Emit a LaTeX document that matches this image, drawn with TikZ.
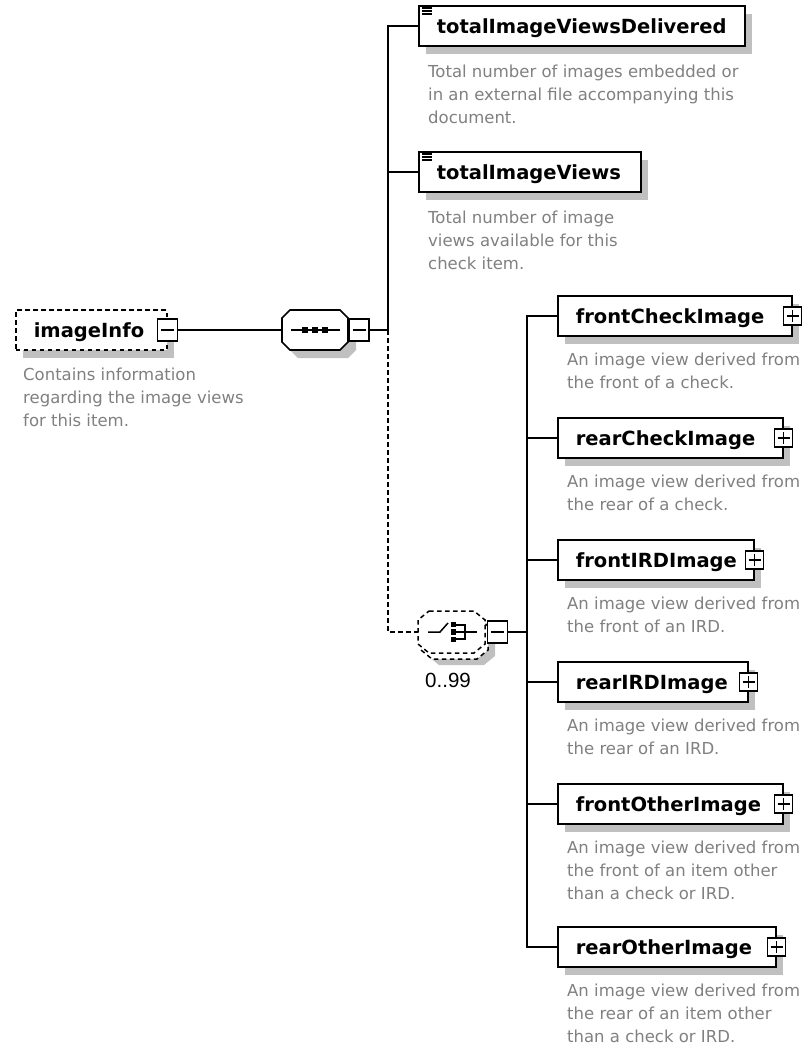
\documentclass[tikz,border=0pt]{standalone}
\usepackage{fontspec}
\setmainfont{DejaVu Sans}
\newfontfamily\occfont{Liberation Sans}
\usetikzlibrary{shadows}
\definecolor{shadowgrey}{RGB}{192,192,192}
\definecolor{doc}{RGB}{128,128,128}
\tikzset{
  wire/.style={line width=1.7pt},
  optwire/.style={line width=1.6pt, dash pattern=on 4.5pt off 3.5pt},
  elem/.style={draw, line width=1.7pt, fill=white, minimum height=40pt,
    inner xsep=18pt, inner ysep=0pt, align=left, text height=16pt, text depth=2pt,
    anchor=west, font=\fontsize{19.5}{22}\selectfont\bfseries,
    drop shadow={shadow xshift=7pt, shadow yshift=-8pt, opacity=1, fill=shadowgrey, draw=none}},
  optelem/.style={elem, line width=1.6pt, dash pattern=on 4.5pt off 3.5pt},
  docnote/.style={anchor=base west, inner sep=0pt, text=doc, font=\fontsize{16.5}{23}\selectfont},
  togglebox/.style={draw, fill=white, line width=1.4pt, inner sep=0pt},
  plusbox/.style={togglebox, minimum width=18pt, minimum height=18pt,
    path picture={\draw[line width=1.4pt]
      ([xshift=-6pt]path picture bounding box.center) -- ([xshift=6pt]path picture bounding box.center)
      ([yshift=-6pt]path picture bounding box.center) -- ([yshift=6pt]path picture bounding box.center);}},
  minusbox/.style={togglebox, minimum width=20pt, minimum height=22pt,
    path picture={\draw[line width=1.4pt]
      ([xshift=-6.5pt]path picture bounding box.center) -- ([xshift=6.5pt]path picture bounding box.center);}},
  hub/.style={inner sep=0pt, outer sep=0pt},
  compo/.style={line width=1.5pt, dash pattern=on 4.5pt off 3.5pt, fill=white},
}
\begin{document}
\begin{tikzpicture}[x=1pt, y=-1pt]
\useasboundingbox (0,0) rectangle (809,1047);

% ---------- root element ----------
\node[optelem, text width=115pt] (info) at (15,330) {imageInfo};
\node[minusbox] (infom) at (info.east) {};
\node[docnote] (infod) at (23,380) {\begin{tabular}[t]{@{}l@{}}Contains information\\regarding the image views\\for this item.\end{tabular}};

% ---------- sequence compositor ----------
\node[hub, minimum width=66pt, minimum height=40pt] (seq) at (315,330) {};
\fill[shadowgrey] (298,318) -- (348,318) -- (356,326) -- (356,350) -- (348,358) -- (298,358) -- (290,350) -- (290,326) -- cycle;
\draw[wire, fill=white] (290,310) -- (340,310) -- (348,318) -- (348,342) -- (340,350) -- (290,350) -- (282,342) -- (282,318) -- cycle;
\draw[line width=1.5pt] (291,330) -- (340,330);
\foreach \x in {305,315,325} \fill (\x-3.2,326.8) rectangle (\x+3.2,333.2);
\node[minusbox] (seqm) at (359,330) {};

% ---------- simple-content elements ----------
\node[elem, text width=290pt] (tivd) at (418,26) {totalImageViewsDelivered};
\node[docnote] (tivdd) at (428,77) {\begin{tabular}[t]{@{}l@{}}Total number of images embedded or\\in an external file accompanying this\\document.\end{tabular}};
\node[elem, text width=186pt] (tiv) at (418,172) {totalImageViews};
\node[docnote] (tivdoc) at (428,223) {\begin{tabular}[t]{@{}l@{}}Total number of image\\views available for this\\check item.\end{tabular}};
\foreach \n in {tivd,tiv}
  \foreach \d in {3,6,9}
    \draw[line width=1.4pt] ([xshift=4pt,yshift=-\d pt]\n.north west) -- ++(10pt,0);

% ---------- choice compositor (0..99) ----------
\node[hub, minimum width=67pt, minimum height=42pt] (cho) at (451.5,632) {};
\fill[shadowgrey] (439,623) -- (484,623) -- (495,632) -- (495,656) -- (484,665) -- (439,665) -- (428,656) -- (428,632) -- cycle;
\draw[compo] (432,617) -- (477,617) -- (488,626) -- (488,650) -- (477,659) -- (432,659) -- (421,650) -- (421,626) -- cycle;
\draw[compo] (429,611) -- (474,611) -- (485,620) -- (485,644) -- (474,653) -- (429,653) -- (418,644) -- (418,620) -- cycle;
\draw[line width=1.5pt] (428,632) -- (440,632) -- (448,623);
\foreach \y in {624.5,632,639.5} \fill (451,\y-2.6) rectangle (456,\y+2.6);
\draw[line width=1.5pt] (456,625) -- (465,625) -- (465,639) -- (456,639);
\draw[line width=1.5pt] (456,632) -- (477,632);
\node[minusbox] (chom) at (497.5,632) {};
\node[anchor=base west, inner sep=0pt, font=\occfont\fontsize{20.5}{24}\selectfont] (occ) at (425,687) {0..99};

% ---------- image view elements ----------
\node[elem, text width=198pt] (fci) at (557,316) {frontCheckImage};
\node[elem, text width=189pt] (rci) at (557,438) {rearCheckImage};
\node[elem, text width=160pt] (fii) at (557,560) {frontIRDImage};
\node[elem, text width=154pt] (rii) at (557,682) {rearIRDImage};
\node[elem, text width=189pt] (foi) at (557,804) {frontOtherImage};
\node[elem, text width=182pt] (roi) at (557,947) {rearOtherImage};
\foreach \n in {fci,rci,fii,rii,foi,roi}
  \node[plusbox] (\n p) at (\n.east) {};

\node[docnote] (fcid) at (567,365) {\begin{tabular}[t]{@{}l@{}}An image view derived from\\the front of a check.\end{tabular}};
\node[docnote] (rcid) at (567,487) {\begin{tabular}[t]{@{}l@{}}An image view derived from\\the rear of a check.\end{tabular}};
\node[docnote] (fiid) at (567,609) {\begin{tabular}[t]{@{}l@{}}An image view derived from\\the front of an IRD.\end{tabular}};
\node[docnote] (riid) at (567,731) {\begin{tabular}[t]{@{}l@{}}An image view derived from\\the rear of an IRD.\end{tabular}};
\node[docnote] (foid) at (567,853) {\begin{tabular}[t]{@{}l@{}}An image view derived from\\the front of an item other\\than a check or IRD.\end{tabular}};
\node[docnote] (roid) at (567,996) {\begin{tabular}[t]{@{}l@{}}An image view derived from\\the rear of an item other\\than a check or IRD.\end{tabular}};

% ---------- connectors ----------
\coordinate (seqbus) at (388,330);
\coordinate (chobus) at (527,632);
\draw[wire] (infom.east) -- (seq.west);
\draw[wire] (seqm.east) -- (seqbus);
\draw[wire] (seqbus) |- (tivd.west);
\draw[wire] (tiv.west -| seqbus) -- (tiv.west);
\draw[optwire] (seqbus) |- (cho.west);
\draw[wire] (chom.east) -- (chobus);
\draw[wire] (chobus) |- (fci.west);
\draw[wire] (chobus) |- (roi.west);
\foreach \n in {rci,fii,rii,foi}
  \draw[wire] (\n.west -| chobus) -- (\n.west);
\end{tikzpicture}
\end{document}
